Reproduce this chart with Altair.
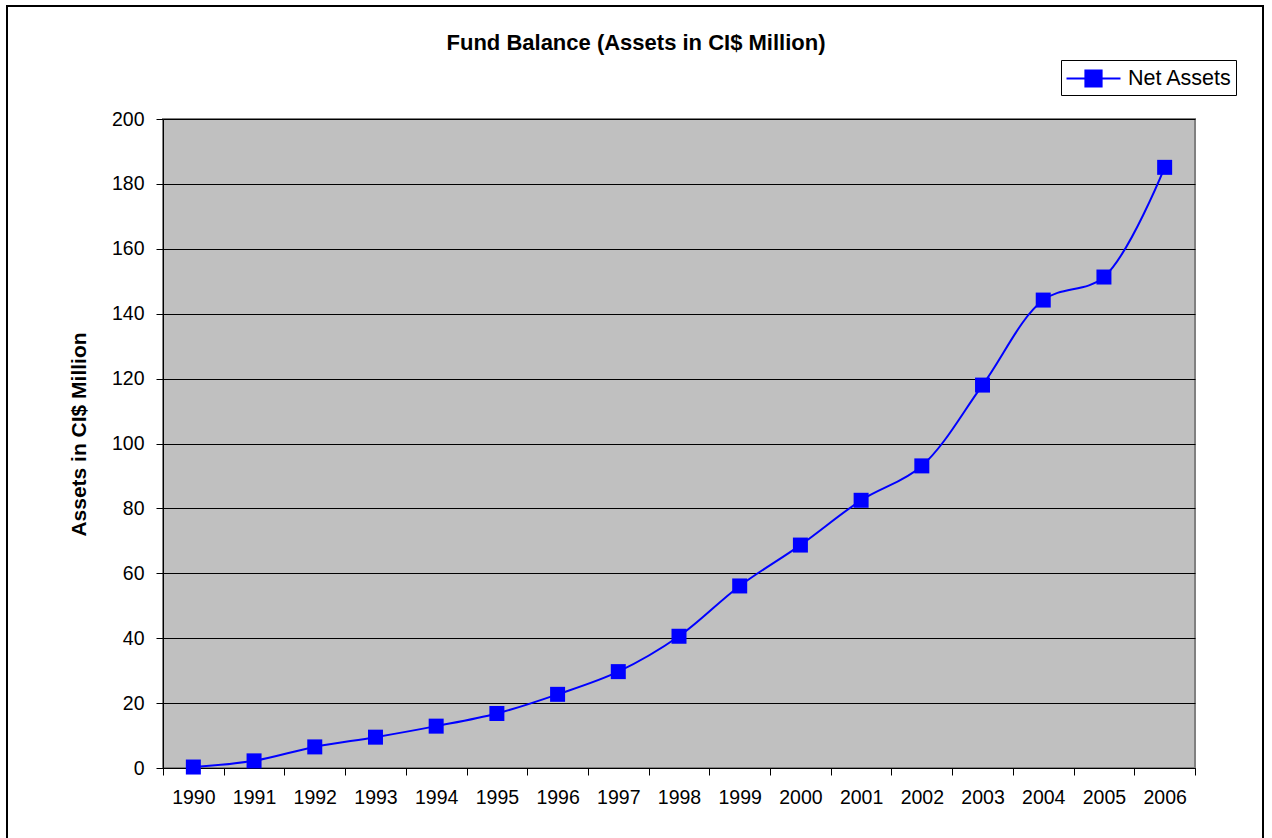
import altair as alt
import pandas as pd

years = [str(y) for y in range(1990, 2007)]
net_assets = [0.3, 2.2, 6.5, 9.5, 12.9, 16.8, 22.7, 29.7, 40.6, 56.1, 68.7, 82.5, 93.1,
              118.0, 144.2, 151.3, 185.1]
series = ["Net Assets"] * len(years)

df = pd.DataFrame({"year": years, "value": net_assets, "series": series})

BLUE = "#0000FF"
FONT = "Liberation Sans"
legend_path = "M-2,0H2M-0.6,-0.6H0.6V0.6H-0.6Z"

x_enc = alt.X("year:O", scale=alt.Scale(type="band", paddingInner=0, paddingOuter=0),
              axis=alt.Axis(title=None, labelAngle=0, tickBand="extent", grid=False,
                            labelFontSize=19.5, labelPadding=13, tickSize=7,
                            labelColor="black", tickColor="black", domainColor="black",
                            labelFont=FONT))
y_enc = alt.Y("value:Q", scale=alt.Scale(domain=[0, 200], nice=False),
              axis=alt.Axis(title="Assets in CI$ Million", values=list(range(0, 201, 20)),
                            labelFontSize=19.5, labelPadding=12, tickSize=7,
                            labelColor="black", tickColor="black", domainColor="black",
                            gridColor="black", gridWidth=1, labelFont=FONT,
                            titleFont=FONT, titleFontSize=21, titleFontWeight="bold",
                            titleColor="black", titleX=-78, titleY=315,
                            titleBaseline="alphabetic", titleAlign="center", titleAngle=-90))

line = alt.Chart(df).mark_line(color=BLUE, strokeWidth=2, interpolate="catmull-rom").encode(
    x=x_enc, y=y_enc)

points = alt.Chart(df).mark_point(shape="square", filled=True, size=225, opacity=1).encode(
    x=x_enc, y=y_enc,
    color=alt.Color("series:N", scale=alt.Scale(range=[BLUE]),
                    legend=alt.Legend(title=None, orient="none", legendX=898, legendY=-59,
                                      fillColor="white", strokeColor="black", padding=4,
                                      symbolType=legend_path, symbolSize=729,
                                      symbolStrokeWidth=2, symbolStrokeColor=BLUE,
                                      symbolFillColor=BLUE, symbolOffset=14,
                                      labelOffset=20, labelFontSize=21.5, labelFont=FONT,
                                      labelColor="black", labelLimit=300))
)

border = alt.Chart(alt.Data(values=[{}])).mark_rect(
    fill=None, stroke="black", strokeWidth=2).encode(
    x=alt.value(-156), x2=alt.value(1100), y=alt.value(-113), y2=alt.value(760))

chart = alt.layer(border, line, points).properties(
    width=1032, height=649,
    title=alt.TitleParams("Fund Balance (Assets in CI$ Million)", font=FONT, fontSize=22,
                          fontWeight="bold", color="black", anchor="middle", frame="group",
                          dx=-43, offset=-50),
    autosize=alt.AutoSizeParams(type="none"),
    padding={"left": 163, "top": 119, "right": 77, "bottom": 70},
).configure(
    background="white",
    view=alt.ViewConfig(fill="#C0C0C0", stroke="#808080", strokeWidth=2),
)

chart.save("out.html", embed_options={"renderer": "svg", "actions": False})
